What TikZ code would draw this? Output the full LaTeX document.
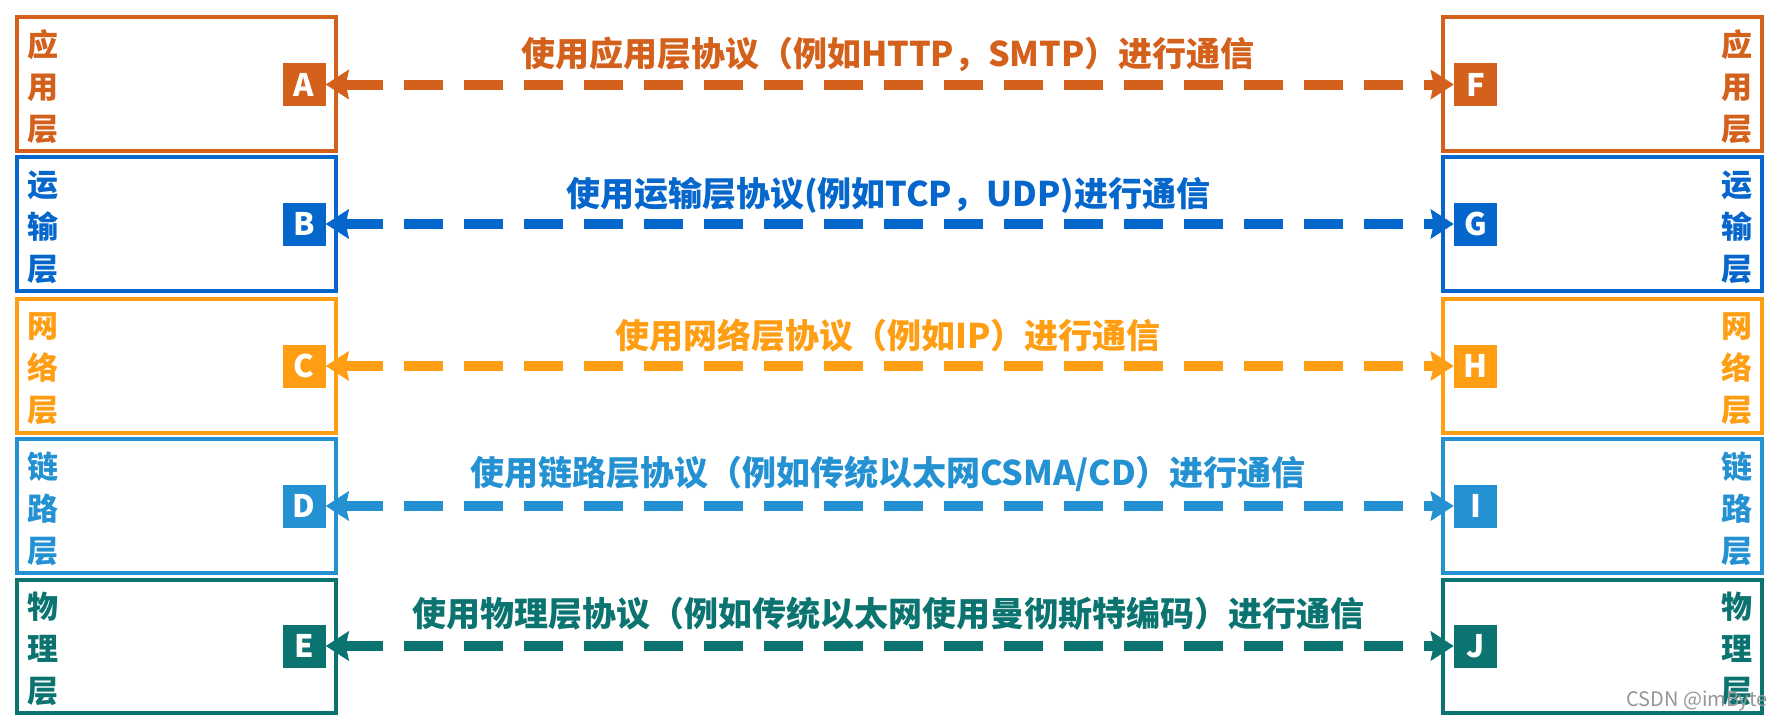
\documentclass[tikz,border=0pt]{standalone}
\usepackage{fontspec}
\setmainfont{Noto Sans CJK SC}
\usetikzlibrary{arrows.meta}
\definecolor{cA}{RGB}{211,96,27}
\definecolor{cB}{RGB}{5,103,204}
\definecolor{cC}{RGB}{255,158,18}
\definecolor{cD}{RGB}{36,145,210}
\definecolor{cE}{RGB}{12,116,112}
\definecolor{wmgray}{RGB}{150,150,150}
\begin{document}
\begin{tikzpicture}[x=1pt,y=-1pt,
  layerbox/.style={draw=#1, line width=4pt},
  sq/.style={fill=#1, text=white, minimum size=43pt, inner sep=0pt,
    font=\fontsize{31}{31}\selectfont\bfseries},
  side/.style={text=#1, align=center, inner sep=0pt,
    font=\fontsize{31}{42}\selectfont\bfseries},
  title/.style={text=#1, inner sep=0pt,
    font=\fontsize{34}{34}\selectfont\bfseries},
  arr/.style={draw=#1, line width=10pt,
    dash pattern=on 39pt off 21pt,
    {Stealth[length=23pt,width=29pt,inset=3pt]}-{Stealth[length=23pt,width=29pt,inset=3pt]}},
  wm/.style={text=wmgray, inner sep=0pt, font=\fontsize{20}{20}\selectfont}
]
\useasboundingbox[fill=white] (0,0) rectangle (1780,723);

% letter squares
\node[sq=cA] (A) at (304,84.5) {A};
\node[sq=cB] (B) at (304,224) {B};
\node[sq=cC] (C) at (304,366) {C};
\node[sq=cD] (D) at (304,506) {D};
\node[sq=cE] (E) at (304,646) {E};
\node[sq=cA] (F) at (1475.5,84.5) {F};
\node[sq=cB] (G) at (1475.5,224) {G};
\node[sq=cC] (H) at (1475.5,366) {H};
\node[sq=cD] (I) at (1475.5,506) {I};
\node[sq=cE] (J) at (1475.5,646) {J};

% arrows
\draw[arr=cA] (A.east) -- (F.west);
\draw[arr=cB] (B.east) -- (G.west);
\draw[arr=cC] (C.east) -- (H.west);
\draw[arr=cD] (D.east) -- (I.west);
\draw[arr=cE] (E.east) -- (J.west);

% layer boxes
\draw[layerbox=cA] (17,17) rectangle (336,151);
\draw[layerbox=cB] (17,157) rectangle (336,291);
\draw[layerbox=cC] (17,299) rectangle (336,433);
\draw[layerbox=cD] (17,439) rectangle (336,573);
\draw[layerbox=cE] (17,580) rectangle (336,713);
\draw[layerbox=cA] (1443,17) rectangle (1762,151);
\draw[layerbox=cB] (1443,157) rectangle (1762,291);
\draw[layerbox=cC] (1443,299) rectangle (1762,433);
\draw[layerbox=cD] (1443,439) rectangle (1762,573);
\draw[layerbox=cE] (1443,580) rectangle (1762,713);

% side labels
\node[side=cA] (lA) at (43,87) {应\\用\\层};
\node[side=cB] (lB) at (43,227) {运\\输\\层};
\node[side=cC] (lC) at (43,369) {网\\络\\层};
\node[side=cD] (lD) at (43,509) {链\\路\\层};
\node[side=cE] (lE) at (43,649) {物\\理\\层};
\node[side=cA] (rA) at (1737,87) {应\\用\\层};
\node[side=cB] (rB) at (1737,227) {运\\输\\层};
\node[side=cC] (rC) at (1737,369) {网\\络\\层};
\node[side=cD] (rD) at (1737,509) {链\\路\\层};
\node[side=cE] (rE) at (1737,649) {物\\理\\层};

% titles
\node[title=cA] (tA) at (888,54) {使用应用层协议（例如HTTP，SMTP）进行通信};
\node[title=cB] (tB) at (888,195) {使用运输层协议(例如TCP，UDP)进行通信};
\node[title=cC] (tC) at (888,336) {使用网络层协议（例如IP）进行通信};
\node[title=cD] (tD) at (888,474) {使用链路层协议（例如传统以太网CSMA/CD）进行通信};
\node[title=cE] (tE) at (888,614) {使用物理层协议（例如传统以太网使用曼彻斯特编码）进行通信};

% watermark
\node[wm] (wm) at (1697,701) {CSDN @imByte};
\end{tikzpicture}
\end{document}
